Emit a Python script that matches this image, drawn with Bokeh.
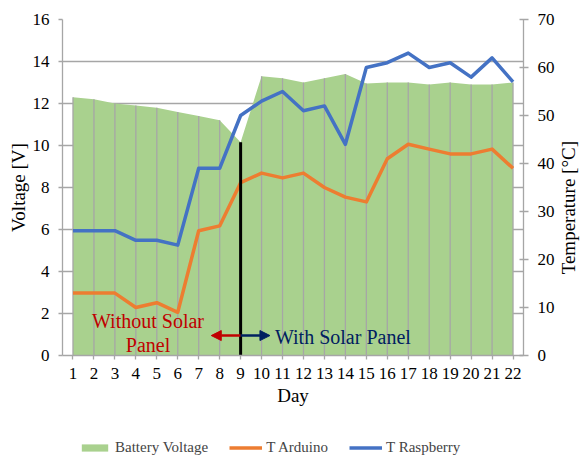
import math
from bokeh.plotting import figure
from bokeh.layouts import column, row
from bokeh.models import (Range1d, LinearAxis, FixedTicker, Legend, LegendItem,
                          Arrow, NormalHead, Label, ColumnDataSource)
from bokeh.embed import file_html
from bokeh.resources import INLINE

# ---- data ----
days = list(range(1, 23))
battery_voltage = [12.3, 12.2, 12.0, 11.9, 11.8, 11.6, 11.4, 11.2, 10.15, 13.3, 13.2,
                   13.0, 13.2, 13.4, 12.95, 13.0, 13.0, 12.9, 13.0, 12.9, 12.9, 13.0]
t_arduino = [13, 13, 13, 10, 11, 9, 26, 27, 36, 38, 37, 38, 35, 33, 32, 41, 44, 43,
             42, 42, 43, 39]
t_raspberry = [26, 26, 26, 24, 24, 23, 39, 39, 50, 53, 55, 51, 52, 44, 60, 61, 63, 60,
               61, 58, 62, 57]
voltage_ticks = [0, 2, 4, 6, 8, 10, 12, 14, 16]
temp_ticks = [0, 10, 20, 30, 40, 50, 60, 70]
solar_day = 9
series_names = ["Battery Voltage", "T Arduino", "T Raspberry"]

FONT = "Liberation Serif"
GRID = "#A6A6A6"
GREEN = "#A9D18E"
ORANGE = "#ED7D31"
BLUE = "#4472C4"
RED = "#C00000"
NAVY = "#002060"
TICK_FS = "17px"
TITLE_FS = "19px"

src = ColumnDataSource(dict(day=days, v=battery_voltage, ta=t_arduino, tr=t_raspberry))

W_MAIN = 559
W_SIDE = 21
H_MAIN = 416
p = figure(width=W_MAIN, height=H_MAIN, x_range=Range1d(0.5, 22.5), y_range=Range1d(0, 16),
           output_backend="svg", toolbar_location=None,
           min_border_left=62, min_border_right=36, min_border_top=19,
           min_border_bottom=61)
p.extra_y_ranges = {"temp": Range1d(0, 70)}
p.outline_line_color = None

p.xgrid.visible = False
p.ygrid.ticker = FixedTicker(ticks=voltage_ticks)
p.ygrid.grid_line_color = GRID
p.ygrid.grid_line_width = 1.3

p.varea(x="day", y1=0, y2="v", source=src, fill_color=GREEN)
p.segment(x0="day", y0=0, x1="day", y1="v", source=src, line_color=GRID, line_width=1.3)
p.line("day", "ta", source=src, y_range_name="temp", line_color=ORANGE,
       line_width=3.5, line_join="round")
p.line("day", "tr", source=src, y_range_name="temp", line_color=BLUE,
       line_width=3.5, line_join="round")
p.segment(x0=[solar_day], y0=[0], x1=[solar_day], y1=[battery_voltage[solar_day - 1]],
          line_color="black", line_width=3)

# arrows
p.add_layout(Arrow(x_start=solar_day, y_start=0.95, x_end=7.6, y_end=0.95,
                   line_color=RED, line_width=2.5,
                   end=NormalHead(size=10, fill_color=RED, line_color=RED)))
p.add_layout(Arrow(x_start=solar_day, y_start=0.95, x_end=10.4, y_end=0.95,
                   line_color=NAVY, line_width=2.5,
                   end=NormalHead(size=10, fill_color=NAVY, line_color=NAVY)))

for txt, x, y, col, align in [("Without Solar", 4.58, 1.62, RED, "center"),
                              ("Panel", 4.58, 0.48, RED, "center"),
                              ("With Solar Panel", 10.64, 0.88, NAVY, "left")]:
    p.add_layout(Label(x=x, y=y, text=txt, text_align=align, text_baseline="middle",
                       text_font=FONT, text_font_size="20px", text_color=col))

# axes
xa = p.xaxis[0]
xa.ticker = FixedTicker(ticks=days)
xa.axis_label = "Day"
ya = p.yaxis[0]
ya.ticker = FixedTicker(ticks=voltage_ticks)
ya.axis_label = "Voltage [V]"
ra = LinearAxis(y_range_name="temp", ticker=FixedTicker(ticks=temp_ticks))
p.add_layout(ra, "right")

for ax in (xa, ya, ra):
    ax.axis_line_color = GRID
    ax.axis_line_width = 1.3
    ax.major_tick_line_color = GRID
    ax.major_tick_line_width = 1.3
    ax.minor_tick_line_color = None
    ax.major_label_text_font = FONT
    ax.major_label_text_font_size = TICK_FS
    ax.major_label_text_color = "black"
    ax.axis_label_text_font = FONT
    ax.axis_label_text_font_size = TITLE_FS
    ax.axis_label_text_font_style = "normal"
    ax.axis_label_text_color = "black"
    ax.major_tick_in = 0
    ax.major_tick_out = 4
xa.major_label_standoff = 8
xa.axis_label_standoff = 3
ya.major_label_standoff = 9
ya.axis_label_standoff = 1
ra.major_tick_in = 4
ra.major_tick_out = 5
ra.major_label_standoff = 9

# right-hand axis title, reading bottom to top
rf = figure(width=W_SIDE, height=H_MAIN, x_range=Range1d(0, 1), y_range=Range1d(0, 1),
            output_backend="svg", toolbar_location=None,
            x_axis_location=None, y_axis_location=None, min_border=0)
rf.outline_line_color = None
rf.xgrid.visible = False
rf.ygrid.visible = False
rf.add_layout(Label(x=0.45, y=0.44, text="Temperature [°C]", angle=math.pi / 2,
                    text_align="center", text_baseline="middle", text_font=FONT,
                    text_font_size=TITLE_FS, text_color="black"))

# legend strip below the chart (glyphs drawn outside the visible range)
lf = figure(width=W_MAIN + W_SIDE, height=42, x_range=Range1d(100, 101),
            y_range=Range1d(100, 101), output_backend="svg", toolbar_location=None,
            x_axis_location=None, y_axis_location=None, min_border=0)
lf.outline_line_color = None
lf.xgrid.visible = False
lf.ygrid.visible = False
r_area = lf.varea(x=days, y1=0, y2=battery_voltage, fill_color=GREEN)
r_ard = lf.line(x=days, y=t_arduino, line_color=ORANGE, line_width=3.5)
r_ras = lf.line(x=days, y=t_raspberry, line_color=BLUE, line_width=3.5)
legend = Legend(items=[LegendItem(label=series_names[0], renderers=[r_area]),
                       LegendItem(label=series_names[1], renderers=[r_ard]),
                       LegendItem(label=series_names[2], renderers=[r_ras])],
                orientation="horizontal", location=(78, 2), margin=0, padding=0,
                spacing=21, label_standoff=4, glyph_width=33, glyph_height=9,
                label_height=16, label_text_font=FONT, label_text_font_size="15px",
                border_line_color=None, background_fill_alpha=0)
lf.add_layout(legend, "center")

layout = column(row(p, rf, spacing=0), lf, spacing=0)
open("out.html", "w").write(file_html(layout, INLINE))
